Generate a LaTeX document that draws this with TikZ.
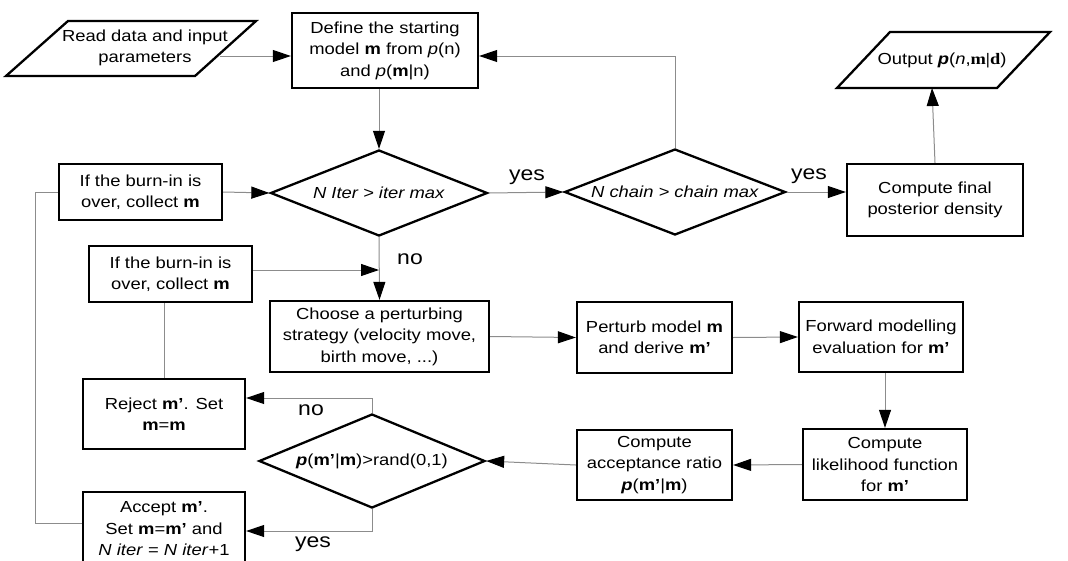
\documentclass[tikz,border=0pt]{standalone}
\usepackage{fontspec}
\setmainfont{Liberation Sans}[FakeStretch=1.15]
\newfontfamily\serifb{Liberation Serif}[FakeStretch=1.15]
\usetikzlibrary{shapes.geometric,arrows.meta}
\tikzset{
  txt/.style={align=center, inner sep=0pt, font=\fontsize{16}{21.5}\selectfont},
  outl/.style={draw=black, line width=2.3pt, line join=miter},
  box/.style={txt, outl},
  dia/.style={txt, outl, shape=diamond},
  conn/.style={draw=black!45, line width=1pt},
  arr/.style={conn, -{Triangle[length=18pt,width=12pt,color=black]}},
  lab/.style={font=\fontsize{20}{24}\selectfont, inner sep=0pt},
}
\begin{document}
\begin{tikzpicture}[x=1pt,y=-1pt]
\useasboundingbox (0,0) rectangle (1068,560);
% input / output parallelograms
\draw[outl] (68,21) -- (256,21) -- (195,76) -- (6,76) -- cycle;
\node[txt] (read) at (145,48) {Read data and input\\parameters};
\coordinate (readR) at (220,56);
\draw[outl] (890,32) -- (1050,32) -- (997,88) -- (837,88) -- cycle;
\node[txt] (out) at (942,60) {Output \textbf{\textit{p}}(\textit{n},{\serifb\bfseries m|d})};
\coordinate (outB) at (932,88);
% boxes
\node[box, minimum width=186pt, minimum height=75pt] (define) at (385,50.5)
  {Define the starting\\model \textbf{m} from \textit{p}(n)\\and \textit{p}(\textbf{m}|n)};
\node[dia, aspect=2.52, minimum width=217pt, minimum height=86pt] (niter) at (379,193)
  {\textit{N Iter > iter max}};
\node[dia, aspect=2.57, minimum width=221pt, minimum height=86pt] (nchain) at (675,192)
  {\textit{N chain > chain max}};
\node[box, minimum width=176pt, minimum height=72pt] (final) at (935,200)
  {Compute final\\posterior density};
\node[box, minimum width=163pt, minimum height=56pt] (ifa) at (140.5,192)
  {If the burn-in is\\over, collect \textbf{m}};
\node[box, minimum width=163pt, minimum height=56pt] (ifb) at (170.5,274)
  {If the burn-in is\\over, collect \textbf{m}};
\node[box, minimum width=219pt, minimum height=71pt] (choose) at (379.5,336.5)
  {Choose a perturbing\\strategy (velocity move,\\birth move, ...)};
\node[box, minimum width=155pt, minimum height=71pt] (perturb) at (654.5,337.5)
  {Perturb model \textbf{m}\\and derive \textbf{m’}};
\node[box, minimum width=164pt, minimum height=70pt] (forward) at (881,337)
  {Forward modelling\\evaluation for \textbf{m’}};
\node[box, minimum width=164pt, minimum height=71pt] (like) at (885,464.5)
  {Compute\\likelihood function\\for \textbf{m’}};
\node[box, minimum width=155pt, minimum height=70pt] (accr) at (654.5,465)
  {Compute\\acceptance ratio\\\textbf{\textit{p}}(\textbf{m’}|\textbf{m})};
\node[dia, aspect=2.4, minimum width=226pt, minimum height=94pt] (pdia) at (372,461)
  {\textbf{\textit{p}}(\textbf{m’}|\textbf{m})>rand(0,1)};
\node[box, minimum width=162pt, minimum height=70pt] (reject) at (164,414)
  {Reject \textbf{m’}. Set\\\textbf{m}=\textbf{m}};
\node[box, minimum width=162pt, minimum height=74pt] (accept) at (164,529)
  {Accept \textbf{m’}.\\Set \textbf{m}=\textbf{m’} and\\\textit{N iter} = \textit{N iter}+1};
% connectors
\draw[arr] (readR) -- (readR -| define.west);
\draw[arr] (nchain.north) |- ([yshift=-5.5pt]define.east);
\draw[arr] (define.south -| niter.north) -- (niter.north);
\draw[arr] (niter.east) -- (nchain.west);
\draw[arr] (nchain.east) -- (nchain.east -| final.west);
\draw[arr] (final.north) -- (outB);
\draw[arr] (ifa.east) -- (niter.west);
\draw[conn] (ifa.west) -- ++(-22,0) |- ([yshift=6pt]accept.west);
\draw[arr] ([yshift=4pt]ifb.east) -- ([yshift=4pt]ifb.east -| niter.south);
\draw[conn] (ifb.south -| reject.north) -- (reject.north);
\draw[arr] (niter.south) -- (choose.north);
\draw[arr] (choose.east) -- (perturb.west);
\draw[arr] (perturb.east) -- (forward.west);
\draw[arr] (forward.south -| like.north) -- (like.north);
\draw[arr] (like.west) -- (accr.east);
\draw[arr] (accr.west) -- (pdia.east);
\draw[arr] (pdia.north) |- ([yshift=16pt]reject.east);
\draw[arr] (pdia.south) |- ([yshift=-2pt]accept.east);
% labels
\node[lab] (yesa) at (527,177) {yes};
\node[lab] (yesb) at (809,176) {yes};
\node[lab] (noa) at (410,259) {no};
\node[lab] (nob) at (311,410) {no};
\node[lab] (yesc) at (313,544) {yes};
\end{tikzpicture}
\end{document}
